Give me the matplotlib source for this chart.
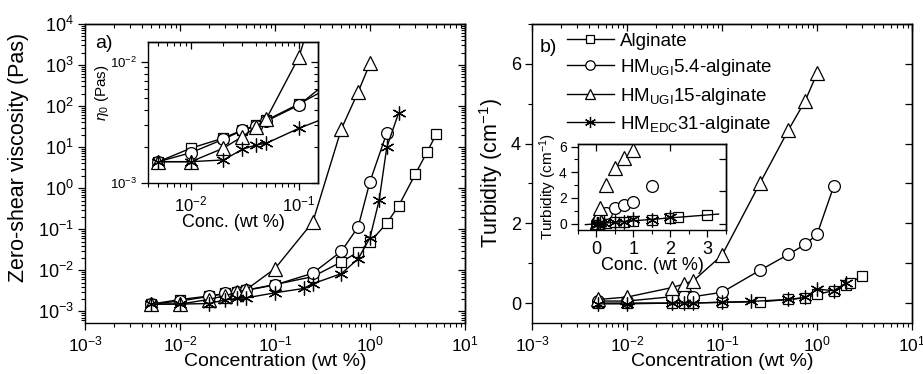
import numpy as np
import matplotlib.pyplot as plt
from matplotlib.ticker import LogLocator, NullFormatter, MultipleLocator

plt.rcParams['font.family'] = ['Liberation Sans', 'DejaVu Sans']
plt.rcParams['mathtext.fontset'] = 'custom'
plt.rcParams['mathtext.rm'] = 'Liberation Sans'
plt.rcParams['mathtext.it'] = 'Liberation Sans:italic'
plt.rcParams['mathtext.bf'] = 'Liberation Sans:bold'
plt.rcParams['axes.linewidth'] = 1.0

# (a) zero-shear viscosity vs concentration
alg_c = [0.005, 0.01, 0.02, 0.03, 0.04, 0.05, 0.1, 0.25, 0.5, 0.75, 1.0, 1.5, 2.0, 3.0, 4.0, 5.0]
alg_eta = [1.5e-3, 1.94e-3, 2.35e-3, 2.74e-3, 3.0e-3, 3.3e-3, 4.5e-3, 7e-3, 0.016, 0.028,
           0.049, 0.14, 0.37, 2.2, 7.7, 21]
ugi54_c = [0.005, 0.01, 0.02, 0.03, 0.04, 0.05, 0.1, 0.25, 0.5, 0.75, 1.0, 1.5]
ugi54_eta = [1.5e-3, 1.78e-3, 2.3e-3, 2.72e-3, 2.95e-3, 3.25e-3, 4.4e-3, 8.5e-3, 0.029, 0.114, 1.45, 22]
ugi15_c = [0.005, 0.01, 0.02, 0.03, 0.04, 0.05, 0.1, 0.25, 0.5, 0.75, 1.0]
ugi15_eta = [1.5e-3, 1.5e-3, 1.94e-3, 2.42e-3, 2.9e-3, 3.4e-3, 0.011, 0.15, 28, 220, 1100]
edc_c = [0.005, 0.01, 0.02, 0.03, 0.04, 0.05, 0.1, 0.2, 0.25, 0.5, 0.75, 1.0, 1.25, 1.5, 2.0]
edc_eta = [1.5e-3, 1.5e-3, 1.55e-3, 1.9e-3, 2.06e-3, 2.13e-3, 2.83e-3, 3.6e-3, 4.7e-3, 8.3e-3,
           0.019, 0.062, 0.52, 9.8, 68]

# (b) turbidity vs concentration
alg_c_b = [0.005, 0.01, 0.03, 0.04, 0.05, 0.1, 0.25, 0.5, 0.75, 1.0, 1.5, 2.0, 2.2, 3.0]
alg_tur = [0.0, 0.0, 0.0, 0.0, 0.0, 0.02, 0.03, 0.09, 0.13, 0.22, 0.31, 0.45, 0.5, 0.68]
ugi54_c_b = [0.005, 0.01, 0.03, 0.04, 0.05, 0.1, 0.25, 0.5, 0.75, 1.0, 1.5]
ugi54_tur = [0.05, 0.05, 0.16, 0.17, 0.16, 0.27, 0.82, 1.22, 1.47, 1.72, 2.93]
ugi15_c_b = [0.005, 0.01, 0.03, 0.04, 0.05, 0.1, 0.25, 0.5, 0.75, 1.0]
ugi15_tur = [0.09, 0.15, 0.39, 0.48, 0.56, 1.2, 3.0, 4.34, 5.07, 5.76]
edc_c_b = [0.005, 0.01, 0.03, 0.04, 0.05, 0.1, 0.2, 0.5, 0.75, 1.0, 1.5, 2.0]
edc_tur = [-0.02, -0.02, 0.0, 0.0, 0.0, 0.02, 0.04, 0.09, 0.14, 0.35, 0.31, 0.5]

labels = ['Alginate', r'HM$_{\mathrm{UGI}}$5.4-alginate',
          r'HM$_{\mathrm{UGI}}$15-alginate', r'HM$_{\mathrm{EDC}}$31-alginate']
markers = ['s', 'o', '^', (6, 2, 0)]
msizes = [7.5, 8.5, 9.5, 10]
fit_range = [-0.3, 3.3]

visc = [(alg_c, alg_eta), (ugi54_c, ugi54_eta), (ugi15_c, ugi15_eta), (edc_c, edc_eta)]
turb = [(alg_c_b, alg_tur), (ugi54_c_b, ugi54_tur), (ugi15_c_b, ugi15_tur), (edc_c_b, edc_tur)]


def style(ax, logx=True, logy=True, xfs=12, yfs=12):
    # Origin look: ticks out on left/bottom, in on top/right
    ax.tick_params(which='major', direction='out', length=5, width=0.9, pad=3)
    ax.tick_params(which='minor', direction='out', length=2.8, width=0.8)
    ax.tick_params(axis='x', labelsize=xfs)
    ax.tick_params(axis='y', labelsize=yfs)
    top = ax.secondary_xaxis('top')
    right = ax.secondary_yaxis('right')
    for sec in (top, right):
        sec.tick_params(which='major', direction='in', length=5, width=0.9,
                        labeltop=False, labelright=False)
        sec.tick_params(which='minor', direction='in', length=2.8, width=0.8)
    if logx:
        for a in (ax.xaxis, top.xaxis):
            a.set_major_locator(LogLocator(10, numticks=20))
            a.set_minor_locator(LogLocator(10, subs=np.arange(2, 10), numticks=20))
            a.set_minor_formatter(NullFormatter())
    if logy:
        for a in (ax.yaxis, right.yaxis):
            a.set_major_locator(LogLocator(10, numticks=20))
            a.set_minor_locator(LogLocator(10, subs=np.arange(2, 10), numticks=20))
            a.set_minor_formatter(NullFormatter())
    top.set_xticklabels([])
    right.set_yticklabels([])
    return top, right


def draw(ax, data, lines=True):
    for (x, y), m, ms in zip(data, markers, msizes):
        ax.plot(x, y, color='black', lw=1.0 if lines else 0, marker=m, ms=ms,
                mfc='white', mec='black', mew=0.9)


fig = plt.figure(figsize=(9.23, 3.74), dpi=100)

# ---- panel a ----
ax_a = fig.add_axes([0.0921, 0.1364, 0.4117, 0.7995])
ax_a.set_xscale('log')
ax_a.set_yscale('log')
draw(ax_a, visc)
ax_a.set_xlim(1e-3, 1e1)
ax_a.set_ylim(5.2e-4, 1e4)
style(ax_a, xfs=12.5, yfs=13)
ax_a.set_xlabel('Concentration (wt %)', fontsize=14, labelpad=-1)
ax_a.set_ylabel('Zero-shear viscosity (Pas)', fontsize=15.5)
ax_a.yaxis.set_label_coords(-0.148, 0.555)
ax_a.text(0.026, 0.935, 'a)', transform=ax_a.transAxes, fontsize=14, va='center')

ins_a = fig.add_axes([0.1603, 0.5107, 0.1842, 0.377])
ins_a.set_xscale('log')
ins_a.set_yscale('log')
draw(ins_a, visc)
ins_a.set_xlim(0.004, 0.15)
ins_a.set_ylim(1e-3, 1.46e-2)
style(ins_a, xfs=12, yfs=9.5)
ins_a.set_xlabel('Conc. (wt %)', fontsize=13, labelpad=0)
ins_a.set_ylabel(r'$\eta_0$ (Pas)', fontsize=11)
ins_a.yaxis.set_label_coords(-0.22, 0.64)

# ---- panel b ----
ax_b = fig.add_axes([0.5764, 0.1364, 0.4117, 0.7995])
ax_b.set_xscale('log')
draw(ax_b, turb)
ax_b.set_xlim(1e-3, 1e1)
ax_b.set_ylim(-0.5, 7)
style(ax_b, logy=False, xfs=12.5, yfs=13)
ax_b.yaxis.set_major_locator(MultipleLocator(2))
ax_b.yaxis.set_minor_locator(MultipleLocator(1))
ax_b.set_yticks([0, 2, 4, 6])
ax_b.set_xlabel('Concentration (wt %)', fontsize=14, labelpad=-1)
ax_b.set_ylabel(r'Turbidity (cm$^{-1}$)', fontsize=15.5, labelpad=4)
ax_b.text(0.02, 0.922, 'b)', transform=ax_b.transAxes, fontsize=14, va='center')
handles = ax_b.get_lines()[:4]
ax_b.legend(handles, labels, loc='upper left', bbox_to_anchor=(0.07, 1.0), frameon=False,
            fontsize=13.5, handlelength=2.5, handletextpad=0.3, labelspacing=0.4,
            borderaxespad=0.05, numpoints=1, markerscale=0.8)

ins_b = fig.add_axes([0.6262, 0.385, 0.1603, 0.23])
draw(ins_b, turb, lines=False)
fx, fy = np.array(alg_c_b), np.array(alg_tur)
k, b0 = np.polyfit(fx, fy, 1)
xr = np.array(fit_range)
ins_b.plot(xr, k * xr + b0, color='black', lw=1.0)
ins_b.set_xlim(-0.5, 3.5)
ins_b.set_ylim(-0.5, 6.2)
style(ins_b, logx=False, logy=False, xfs=13, yfs=10)
ins_b.xaxis.set_major_locator(MultipleLocator(1))
ins_b.xaxis.set_minor_locator(MultipleLocator(0.5))
ins_b.yaxis.set_major_locator(MultipleLocator(2))
ins_b.yaxis.set_minor_locator(MultipleLocator(1))
ins_b.set_xlabel('Conc. (wt %)', fontsize=13, labelpad=-1)
ins_b.set_ylabel(r'Turbidity (cm$^{-1}$)', fontsize=11, labelpad=0)

fig.savefig('out.png', dpi=100)
